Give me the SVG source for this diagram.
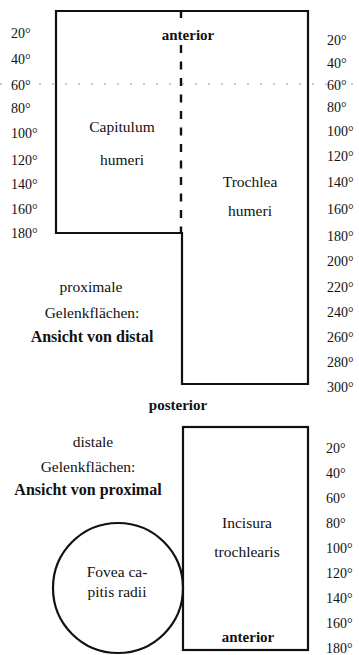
<svg xmlns="http://www.w3.org/2000/svg" width="359" height="655" viewBox="0 0 359 655">
  <style>
    .outline { fill: none; stroke: #111; stroke-width: 2.2; stroke-linejoin: miter; }
    .divider { fill: none; stroke: #111; stroke-width: 2.4; stroke-dasharray: 8 8.5; }
    .guide { fill: none; stroke: #9a9a9a; stroke-width: 1; stroke-dasharray: 2 11; }
    text { font-family: "Liberation Serif", "Times New Roman", serif; fill: #111; }
    .deg { font-size: 14px; }
    .lbl { font-size: 15.5px; text-anchor: middle; }
    .bold { font-weight: bold; font-size: 15px; text-anchor: middle; }
    .head { font-weight: bold; font-size: 16px; text-anchor: middle; }
  </style>

  <!-- grey reference line at 60 degrees -->
  <line class="guide" x1="0" y1="84" x2="359" y2="84"/>

  <!-- humerus: proximal articular surfaces seen from distal -->
  <g id="humerus">
    <path class="outline" d="M56,11 H308 V384 H182 V233 H56 Z"/>
    <text class="bold" x="188" y="40">anterior</text>
    <text class="lbl" x="122" y="132">Capitulum</text>
    <text class="lbl" x="122" y="165">humeri</text>
    <text class="lbl" x="250" y="187">Trochlea</text>
    <text class="lbl" x="250" y="216">humeri</text>
  </g>

  <!-- boundary between capitulum and trochlea -->
  <g id="connectors">
    <line class="divider" x1="181" y1="11" x2="181" y2="18" style="stroke-dasharray:none"/>
    <line class="divider" x1="181" y1="45" x2="181" y2="233"/>
  </g>

  <g id="proximal-caption">
    <text class="lbl" x="91" y="292">proximale</text>
    <text class="lbl" x="92" y="318">Gelenkflächen:</text>
    <text class="head" x="92" y="342">Ansicht von distal</text>
  </g>

  <text class="bold" x="178" y="410">posterior</text>

  <!-- ulna: trochlear notch seen from proximal -->
  <g id="ulna">
    <rect class="outline" x="183" y="427" width="125" height="223"/>
    <text class="lbl" x="247" y="528">Incisura</text>
    <text class="lbl" x="247" y="557">trochlearis</text>
    <text class="bold" x="248" y="642">anterior</text>
  </g>

  <!-- radius: fovea of the radial head -->
  <g id="radius">
    <circle class="outline" cx="118" cy="588" r="65"/>
    <text class="lbl" x="117" y="577">Fovea ca-</text>
    <text class="lbl" x="117" y="597">pitis radii</text>
  </g>

  <g id="distal-caption">
    <text class="lbl" x="93" y="447">distale</text>
    <text class="lbl" x="88" y="472">Gelenkflächen:</text>
    <text class="head" x="88" y="495">Ansicht von proximal</text>
  </g>

  <!-- angle scale, capitulum -->
  <g id="scale-left" class="deg">
    <text class="deg" x="11" y="38">20°</text>
    <text class="deg" x="11" y="64">40°</text>
    <text class="deg" x="11" y="90">60°</text>
    <text class="deg" x="11" y="113">80°</text>
    <text class="deg" x="11" y="138">100°</text>
    <text class="deg" x="11" y="165">120°</text>
    <text class="deg" x="11" y="189">140°</text>
    <text class="deg" x="11" y="214">160°</text>
    <text class="deg" x="11" y="238">180°</text>
  </g>

  <!-- angle scale, trochlea -->
  <g id="scale-right-top">
    <text class="deg" x="327" y="45">20°</text>
    <text class="deg" x="327" y="68">40°</text>
    <text class="deg" x="327" y="90">60°</text>
    <text class="deg" x="327" y="112">80°</text>
    <text class="deg" x="327" y="136">100°</text>
    <text class="deg" x="327" y="161">120°</text>
    <text class="deg" x="327" y="187">140°</text>
    <text class="deg" x="327" y="214">160°</text>
    <text class="deg" x="327" y="241">180°</text>
    <text class="deg" x="327" y="266">200°</text>
    <text class="deg" x="327" y="292">220°</text>
    <text class="deg" x="327" y="317">240°</text>
    <text class="deg" x="327" y="342">260°</text>
    <text class="deg" x="327" y="367">280°</text>
    <text class="deg" x="327" y="392">300°</text>
  </g>

  <!-- angle scale, trochlear notch -->
  <g id="scale-right-bottom">
    <text class="deg" x="326" y="453">20°</text>
    <text class="deg" x="326" y="478">40°</text>
    <text class="deg" x="326" y="503">60°</text>
    <text class="deg" x="326" y="528">80°</text>
    <text class="deg" x="326" y="553">100°</text>
    <text class="deg" x="326" y="578">120°</text>
    <text class="deg" x="326" y="603">140°</text>
    <text class="deg" x="326" y="628">160°</text>
    <text class="deg" x="326" y="653">180°</text>
  </g>
</svg>
